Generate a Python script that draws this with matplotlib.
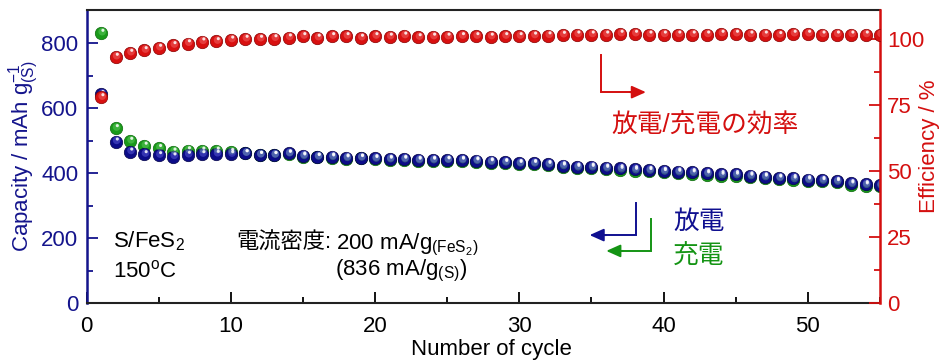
import matplotlib
matplotlib.use("Agg")
import matplotlib.pyplot as plt
import matplotlib.transforms as mtransforms

plt.rcParams['font.family'] = ['Liberation Sans', 'Noto Sans CJK JP']
plt.rcParams['mathtext.fontset'] = 'custom'
plt.rcParams['mathtext.rm'] = 'Liberation Sans'
plt.rcParams['mathtext.it'] = 'Liberation Sans:italic'
plt.rcParams['mathtext.bf'] = 'Liberation Sans:bold'
plt.rcParams['mathtext.default'] = 'regular'

# ---------------- data ----------------
cycles = list(range(1, 56))
discharge = [643, 497, 466, 458, 455, 451, 456, 458, 459, 458,
             461, 456, 456, 461, 454, 451, 451, 448, 448, 446,
             444, 444, 441, 441, 441, 441, 439, 436, 434, 431,
             431, 428, 424, 420, 420, 417, 415, 412, 410, 407,
             405, 403, 400, 397, 397, 393, 390, 386, 385, 381,
             379, 376, 369, 366, 364]
charge = [831, 538, 499, 484, 477, 466, 470, 469, 469, 465,
          461, 456, 455, 459, 451, 449, 448, 445, 446, 443,
          441, 441, 438, 438, 439, 438, 436, 433, 431, 428,
          428, 425, 420, 416, 416, 413, 410, 407, 406, 403,
          401, 399, 396, 392, 392, 389, 386, 383, 380, 377,
          375, 372, 365, 362, 360]
efficiency = [77.9, 93.2, 94.7, 95.7, 96.6, 97.6, 98.3, 99.0, 99.1, 99.7,
              100.0, 100.0, 100.2, 100.5, 101.0, 100.4, 101.0, 101.0, 100.4, 101.0,
              100.8, 101.2, 100.6, 100.8, 100.8, 101.0, 101.0, 100.8, 101.0, 101.0,
              101.2, 101.3, 101.5, 101.6, 101.6, 101.6, 101.9, 101.9, 101.6, 101.6,
              101.6, 101.6, 101.6, 101.9, 101.9, 101.6, 101.6, 101.4, 101.9, 101.9,
              101.6, 101.6, 101.6, 101.6, 101.6]

xticks = [0, 10, 20, 30, 40, 50]
yticks_left = [0, 200, 400, 600, 800]
yticks_right = [0, 25, 50, 75, 100]

NAVY = '#14148c'
GREEN = '#149414'
RED = '#d40f0f'

fig = plt.figure(figsize=(9.41, 3.63), dpi=100)
ax = fig.add_axes([0.0921, 0.164, 0.8430, 0.8085])
ax2 = ax.twinx()


def sphere(a, x, y, color, dark, light):
    a.scatter(x, y, s=80, color=color, edgecolors=dark, linewidths=0.5,
              zorder=3, clip_on=True)
    off1 = mtransforms.offset_copy(a.transData, fig=fig, x=0.8, y=1.0, units='points')
    a.scatter(x, y, s=30, color=light, edgecolors='none', alpha=0.35,
              transform=off1, zorder=4, clip_on=True)
    off2 = mtransforms.offset_copy(a.transData, fig=fig, x=1.3, y=2.0, units='points')
    a.scatter(x, y, s=5, color='white', edgecolors='none', alpha=0.85,
              transform=off2, zorder=5, clip_on=True)


sphere(ax, cycles, charge, '#1a9a1a', '#0b6a0b', '#7fe07f')
sphere(ax, cycles, discharge, '#0c0c88', '#05054a', '#8080ff')
sphere(ax2, cycles, efficiency, '#d81010', '#8a0000', '#ff9090')

ax.set_xlim(0, 55)
ax.set_ylim(0, 902)
ax2.set_ylim(0, 111)

ax.set_xticks(xticks)
ax.set_xticks(range(5, 56, 10), minor=True)
ax.set_yticks(yticks_left)
ax.set_yticks([100, 300, 500, 700], minor=True)
ax2.set_yticks(yticks_right)
ax2.set_yticks([12.5, 37.5, 62.5, 87.5], minor=True)

FS = 16
ax.tick_params(axis='x', which='both', direction='in', colors='black', width=1.3,
               labelsize=FS, pad=9)
ax.tick_params(axis='x', which='major', length=8)
ax.tick_params(axis='x', which='minor', length=4.5)
ax.tick_params(axis='y', which='both', direction='in', colors=NAVY, width=1.3,
               labelsize=FS, pad=6)
ax.tick_params(axis='y', which='major', length=8)
ax.tick_params(axis='y', which='minor', length=4.5)
ax2.tick_params(axis='y', which='both', direction='in', colors=RED, width=1.3,
                labelsize=FS, pad=5)
ax2.tick_params(axis='y', which='major', length=8)
ax2.tick_params(axis='y', which='minor', length=4.5)

for s in ['top', 'bottom']:
    ax.spines[s].set_color('#222222')
    ax.spines[s].set_linewidth(1.5)
ax.spines['left'].set_color(NAVY)
ax.spines['left'].set_linewidth(1.8)
ax.spines['right'].set_visible(False)
for s in ['top', 'bottom', 'left']:
    ax2.spines[s].set_visible(False)
ax2.spines['right'].set_color(RED)
ax2.spines['right'].set_linewidth(1.8)

ax.set_xlabel('Number of cycle', fontsize=FS)
ax.xaxis.set_label_coords(0.51, -0.122)
ax.set_ylabel(r'Capacity / mAh g$^{\mathrm{-1}}_{\mathrm{(S)}}$', fontsize=FS,
              color=NAVY)
ax.yaxis.set_label_coords(-0.058, 0.5)
ax2.set_ylabel('Efficiency / %', fontsize=FS, color=RED)
ax2.yaxis.set_label_coords(1.049, 0.535)

# ---------------- annotations ----------------
T = ax.transAxes
lw = 1.4
CJKFS = 18.5
# red arrow
ax.plot([0.648, 0.648, 0.69], [0.847, 0.72, 0.72], color=RED, lw=lw, transform=T,
        solid_joinstyle='miter')
ax.annotate('', xy=(0.705, 0.72), xytext=(0.685, 0.72), xycoords=T, textcoords=T,
            arrowprops=dict(arrowstyle='-|>,head_length=0.85,head_width=0.38',
                            color=RED, lw=lw, shrinkA=0, shrinkB=0))
ax.text(0.662, 0.605, '放電/充電の効率', transform=T, color=RED, fontsize=CJKFS,
        ha='left', va='center')

# blue arrow
ax.plot([0.692, 0.692, 0.645], [0.341, 0.233, 0.233], color='#101090', lw=lw,
        transform=T, solid_joinstyle='miter')
ax.annotate('', xy=(0.634, 0.233), xytext=(0.655, 0.233), xycoords=T, textcoords=T,
            arrowprops=dict(arrowstyle='-|>,head_length=0.85,head_width=0.38',
                            color='#101090', lw=lw, shrinkA=0, shrinkB=0))
# green arrow
ax.plot([0.712, 0.712, 0.665], [0.288, 0.179, 0.179], color=GREEN, lw=lw,
        transform=T, solid_joinstyle='miter')
ax.annotate('', xy=(0.655, 0.179), xytext=(0.676, 0.179), xycoords=T, textcoords=T,
            arrowprops=dict(arrowstyle='-|>,head_length=0.85,head_width=0.38',
                            color=GREEN, lw=lw, shrinkA=0, shrinkB=0))
ax.text(0.739, 0.279, '放電', transform=T, color='#101090', fontsize=CJKFS,
        ha='left', va='center')
ax.text(0.739, 0.159, '充電', transform=T, color=GREEN, fontsize=CJKFS,
        ha='left', va='center')

ax.text(0.033, 0.211, r'S/FeS$_2$', transform=T, fontsize=FS, ha='left', va='center')
ax.text(0.033, 0.108, r'150$^{\mathrm{o}}$C', transform=T, fontsize=FS, ha='left',
        va='center')

t1 = ax.text(0.189, 0.185, '電流密度:', transform=T, fontsize=FS, ha='left',
             va='baseline')
fig.canvas.draw()
w = t1.get_window_extent().width
ax.text(0.189, 0.185, r' 200 mA/g$_{\mathrm{(FeS_2)}}$',
        transform=mtransforms.offset_copy(T, fig=fig, x=w - 2, y=0, units='dots'),
        fontsize=FS, ha='left', va='baseline')
ax.text(0.313, 0.111, r'(836 mA/g$_{\mathrm{(S)}}$)', transform=T, fontsize=FS,
        ha='left', va='center')

fig.savefig('out.png', dpi=100)
